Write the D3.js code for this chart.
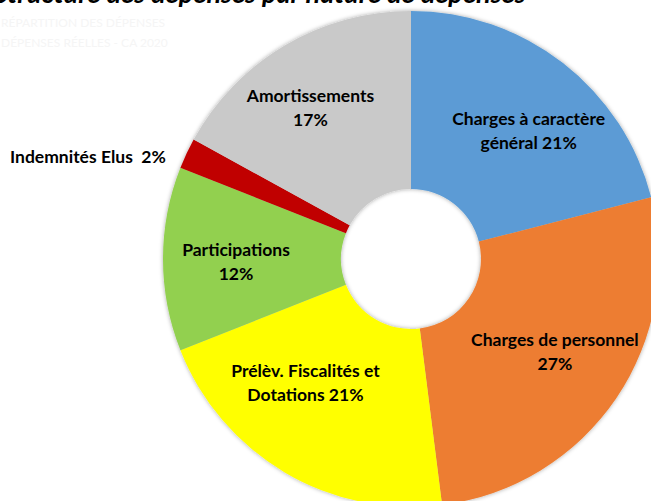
<!DOCTYPE html>
<html>
<head>
<meta charset="utf-8">
<script src="https://cdn.jsdelivr.net/npm/d3@7"></script>
<style>
  body { margin: 0; background: #fff; }
  svg { display: block; }
  text { font-family: Lato, "Open Sans", sans-serif; white-space: pre; }
</style>
</head>
<body>
<div id="chart"></div>
<script>
// Répartition des dépenses - parts in percent, clockwise from 12 o'clock
var categories = ["Charges à caractère général", "Charges de personnel", "Prélèv. Fiscalités et Dotations",
                  "Participations", "Indemnités Elus", "Amortissements"];
var values = [21, 27, 21, 12, 2, 17];
var colors = ["#5b9bd5", "#ed7d31", "#ffff00", "#92d050", "#c00000", "#c9c9c9"];
// label lines (the last line ends with the percentage)
var labelLines = [
  ["Charges à caractère", "général"],
  ["Charges de personnel", ""],
  ["Prélèv. Fiscalités et", "Dotations"],
  ["Participations", ""],
  ["Indemnités Elus "],
  ["Amortissements", ""]
];

var width = 651, height = 501;
var cx = 411, cy = 259;
var outerR = 248, innerR = 70;

var svg = d3.select("#chart").append("svg")
  .attr("width", width)
  .attr("height", height);

var defs = svg.append("defs");
var shadow = defs.append("filter").attr("id", "soft")
  .attr("x", "-10%").attr("y", "-10%").attr("width", "120%").attr("height", "120%");
shadow.append("feDropShadow")
  .attr("dx", 0).attr("dy", 0)
  .attr("stdDeviation", 2.2)
  .attr("flood-color", "#000")
  .attr("flood-opacity", 0.35);

// title cut by the top edge, and the faint header lines
svg.append("text")
  .attr("x", -6).attr("y", 3)
  .style("font-size", "27px").style("font-weight", "bold").style("font-style", "italic")
  .style("fill", "#000")
  .text("Structure des dépenses par nature de dépenses");
svg.append("text")
  .attr("x", 1).attr("y", 27)
  .style("font-size", "12px").style("fill", "#f5f5f5")
  .text("RÉPARTITION DES DÉPENSES");
svg.append("text")
  .attr("x", 1).attr("y", 47)
  .style("font-size", "12px").style("fill", "#f5f5f5")
  .text("DÉPENSES RÉELLES - CA 2020");

var pie = d3.pie().sort(null).value(function(d) { return d; });
var arcs = pie(values);

var arc = d3.arc().innerRadius(innerR).outerRadius(outerR);
var labelArc = d3.arc().innerRadius(174).outerRadius(174);

var g = svg.append("g").attr("transform", "translate(" + cx + "," + cy + ")");

g.append("g")
  .attr("filter", "url(#soft)")
  .selectAll("path")
  .data(arcs)
  .enter()
  .append("path")
  .attr("d", arc)
  .attr("fill", function(d, i) { return colors[i]; });

// small hand nudges like the moved labels of the original
var nudge = [[11, 9], [0, -5], [-17, -26], [-1, 3], [0, 0], [-12, -1]];

var labels = g.append("g").selectAll("text")
  .data(arcs)
  .enter()
  .append("text")
  .style("font-size", "17.5px")
  .style("font-weight", "bold")
  .style("fill", "#000")
  .attr("text-anchor", function(d, i) { return i === 4 ? "start" : "middle"; })
  .attr("transform", function(d, i) {
    if (i === 4) return "translate(" + (10 - cx) + "," + (157 - cy) + ")";
    var c = labelArc.centroid(d);
    return "translate(" + (c[0] + nudge[i][0]) + "," + (c[1] + nudge[i][1]) + ")";
  });

labels.each(function(d, i) {
  var t = d3.select(this);
  var lines = labelLines[i];
  var n = lines.length;
  lines.forEach(function(line, k) {
    var txt = line;
    if (k === n - 1) txt = (line ? line + " " : "") + values[i] + "%";
    t.append("tspan")
      .attr("x", 0)
      .attr("y", (k - (n - 1) / 2) * 24 + 6)
      .text(txt);
  });
});
</script>
</body>
</html>
